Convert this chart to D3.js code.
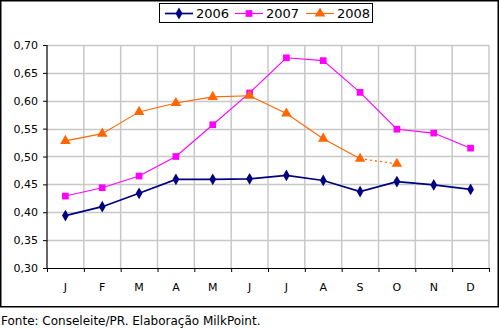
<!DOCTYPE html>
<html>
<head>
<meta charset="utf-8">
<script src="https://cdn.jsdelivr.net/npm/d3@7"></script>
<style>
  html, body { margin: 0; padding: 0; background: #fff; }
  svg text { font-family: "DejaVu Sans", Verdana, sans-serif; font-size: 11px; fill: #000; }
</style>
</head>
<body>
<svg id="chart" width="499" height="329"></svg>
<script>
// Monthly price series (R$/litro)
const months = ["J", "F", "M", "A", "M", "J", "J", "A", "S", "O", "N", "D"];
const series2006 = [0.394, 0.410, 0.434, 0.459, 0.459, 0.460, 0.466, 0.457, 0.437, 0.455, 0.449, 0.441];
const series2007 = [0.429, 0.444, 0.465, 0.500, 0.557, 0.614, 0.677, 0.672, 0.615, 0.549, 0.542, 0.515];
const series2008 = [0.528, 0.541, 0.580, 0.596, 0.607, 0.609, 0.577, 0.532, 0.496, 0.487];
const yTicks = [0.30, 0.35, 0.40, 0.45, 0.50, 0.55, 0.60, 0.65, 0.70];
const seriesNames = ["2006", "2007", "2008"];
const sourceNote = "Fonte: Conseleite/PR. Elaboração MilkPoint.";

const colors = { "2006": "#000080", "2007": "#ff00ff", "2008": "#ff6600" };
const shapes = { "2006": d3.symbolDiamond, "2007": d3.symbolSquare, "2008": d3.symbolTriangle };
const sizes = { "2006": 40, "2007": 45, "2008": 48 };
const widths = { "2006": 1.7, "2007": 1.1, "2008": 1.1 };

const svg = d3.select("#chart");
const plot = { left: 47, right: 489, top: 45, bottom: 268 };

// outer frame
svg.append("rect").attr("x", 0.75).attr("y", 0.75).attr("width", 497.5).attr("height", 306)
  .attr("fill", "#fff").attr("stroke", "#000").attr("stroke-width", 1.5);

const x = d3.scaleBand().domain(d3.range(months.length)).range([plot.left, plot.right]);
const y = d3.scaleLinear().domain([0.30, 0.70]).range([plot.bottom, plot.top]);
const fmt = v => d3.format(".2f")(v).replace(".", ",");

// grid
const grid = svg.append("g");
grid.selectAll("line.h").data(yTicks.slice(1)).enter().append("line")
  .attr("x1", plot.left).attr("x2", plot.right)
  .attr("y1", d => Math.round(y(d)) + 0.5).attr("y2", d => Math.round(y(d)) + 0.5)
  .attr("stroke", "#c8c8c8").attr("stroke-width", 1.5);
grid.selectAll("line.v").data(d3.range(1, months.length + 1)).enter().append("line")
  .attr("x1", d => x.range()[0] + d * x.bandwidth()).attr("x2", d => x.range()[0] + d * x.bandwidth())
  .attr("y1", plot.top).attr("y2", plot.bottom)
  .attr("stroke", "#c8c8c8").attr("stroke-width", 1.5);

// y axis
const yAxis = svg.append("g").attr("transform", `translate(${plot.left},0)`)
  .call(d3.axisLeft(y).tickValues(yTicks).tickFormat(fmt).tickSize(4).tickPadding(5));
yAxis.select(".domain").attr("stroke", "#000").attr("stroke-width", 1.2).attr("d", `M0,${plot.top}V${plot.bottom}`);
yAxis.selectAll(".tick line").attr("stroke", "#000");
yAxis.selectAll(".tick text").style("font-size", "11px").style("font-family", "DejaVu Sans, Verdana, sans-serif");

// x axis: ticks on the category boundaries, labels at the centers
const xb = d3.scaleLinear().domain([0, months.length]).range([plot.left, plot.right]);
const xAxis = svg.append("g").attr("transform", `translate(0,${plot.bottom})`)
  .call(d3.axisBottom(xb).tickValues(d3.range(0, months.length + 1)).tickFormat("").tickSize(4).tickSizeOuter(0));
xAxis.select(".domain").attr("stroke", "#000").attr("stroke-width", 1.2);
xAxis.selectAll(".tick line").attr("stroke", "#000");
svg.append("g").selectAll("text").data(months).enter().append("text")
  .attr("x", (d, i) => x(i) + x.bandwidth() / 2).attr("y", plot.bottom + 23)
  .attr("text-anchor", "middle").text(d => d);

// series
const data = { "2006": series2006, "2007": series2007, "2008": series2008 };
const cx = i => x(i) + x.bandwidth() / 2;
const line = d3.line().x((d, i) => cx(i)).y(d => y(d));

seriesNames.forEach(name => {
  const vals = data[name];
  const g = svg.append("g");
  if (name === "2008") {
    // last segment (preliminary) drawn dotted
    const solid = vals.slice(0, vals.length - 1);
    g.append("path").attr("d", line(solid)).attr("fill", "none")
      .attr("stroke", colors[name]).attr("stroke-width", widths[name]);
    const n = vals.length;
    g.append("line").attr("x1", cx(n - 2)).attr("y1", y(vals[n - 2]))
      .attr("x2", cx(n - 1)).attr("y2", y(vals[n - 1]))
      .attr("stroke", colors[name]).attr("stroke-width", 1.3).attr("stroke-dasharray", "2,3");
  } else {
    g.append("path").attr("d", line(vals)).attr("fill", "none")
      .attr("stroke", colors[name]).attr("stroke-width", widths[name]);
  }
  g.selectAll("path.m").data(vals).enter().append("path")
    .attr("transform", (d, i) => `translate(${cx(i)},${y(d)})`)
    .attr("d", d3.symbol().type(shapes[name]).size(sizes[name]))
    .attr("fill", colors[name]);
});

// source
svg.append("text").attr("x", 1).attr("y", 325).style("font-size", "12px").text(sourceNote);

// legend
const lg = svg.append("g");
lg.append("rect").attr("x", 159.5).attr("y", 3.5).attr("width", 213).attr("height", 19)
  .attr("fill", "#fff").attr("stroke", "#000").attr("stroke-width", 1);
const legendX = [165, 235, 306];
seriesNames.forEach((name, i) => {
  const lx = legendX[i];
  lg.append("line").attr("x1", lx).attr("x2", lx + 28).attr("y1", 13.5).attr("y2", 13.5)
    .attr("stroke", colors[name]).attr("stroke-width", widths[name]);
  lg.append("path").attr("transform", `translate(${lx + 14},13.5)`)
    .attr("d", d3.symbol().type(shapes[name]).size(sizes[name])).attr("fill", colors[name]);
  lg.append("text").attr("x", lx + 31).attr("y", 18).style("font-size", "13px").text(name);
});
</script>
</body>
</html>
